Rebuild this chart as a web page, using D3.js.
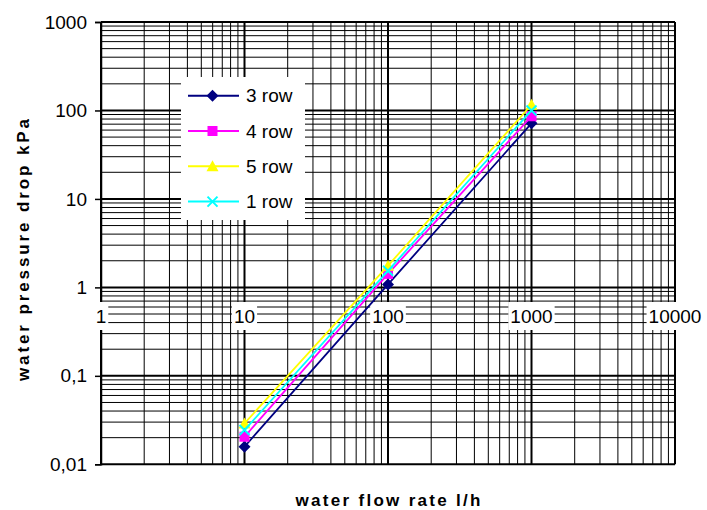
<!DOCTYPE html>
<html>
<head>
<meta charset="utf-8">
<script src="https://cdn.jsdelivr.net/npm/d3@7"></script>
<style>
  html, body { margin: 0; padding: 0; background: #fff; }
  svg { display: block; }
  text { font-family: "Liberation Sans", Arial, sans-serif; fill: #000; }
</style>
</head>
<body>
<svg id="chart" width="707" height="510"></svg>
<script>
// Water flow rate (l/h) at which pressure drop was measured
const flow = [10, 100, 1000];

// Pressure drop (kPa) per coil row count
const row3 = [0.0158, 1.08, 71.5];
const row4 = [0.0205, 1.42, 86];
const row5 = [0.029, 1.76, 116];
const row1 = [0.0244, 1.54, 100];

const seriesNames = ["3 row", "4 row", "5 row", "1 row"];
const seriesColors = ["#000080", "#ff00ff", "#ffff00", "#00ffff"];
const seriesMarkers = ["diamond", "square", "triangle", "cross"];

// Axis tick labels (decimal comma)
const xTickValues = [1, 10, 100, 1000, 10000];
const xTickLabels = ["1", "10", "100", "1000", "10000"];
const yTickValues = [0.01, 0.1, 1, 10, 100, 1000];
const yTickLabels = ["0,01", "0,1", "1", "10", "100", "1000"];

const svg = d3.select("#chart");
const plot = { left: 101, right: 675, top: 22, bottom: 464.3 };

const x = d3.scaleLog().domain([1, 10000]).range([plot.left, plot.right]);
const y = d3.scaleLog().domain([0.01, 1000]).range([plot.bottom, plot.top]);

// Log grid: every integer multiple inside each decade
function gridValues(lo, hi) {
  const out = [];
  for (let p = Math.log10(lo); p <= Math.log10(hi); p++) {
    for (let k = 1; k <= 9; k++) {
      const v = k * Math.pow(10, p);
      if (v > hi * 1.0001) break;
      out.push({ v: v, major: k === 1 });
    }
  }
  return out;
}

const grid = svg.append("g");
grid.selectAll("line.h").data(gridValues(0.01, 1000)).join("line")
  .attr("x1", plot.left).attr("x2", plot.right)
  .attr("y1", d => y(d.v)).attr("y2", d => y(d.v))
  .attr("stroke", "#000").attr("stroke-width", d => d.major ? 2 : 1);
grid.selectAll("line.v").data(gridValues(1, 10000)).join("line")
  .attr("y1", plot.top).attr("y2", plot.bottom)
  .attr("x1", d => x(d.v)).attr("x2", d => x(d.v))
  .attr("stroke", "#000").attr("stroke-width", d => d.major ? 2 : 1);

// Value axis on the left
const yAxis = d3.axisLeft(y).tickValues(yTickValues)
  .tickFormat((d, i) => yTickLabels[i]).tickSize(6).tickPadding(8);
const gy = svg.append("g").attr("transform", `translate(${plot.left},0)`).call(yAxis);
gy.select(".domain").attr("stroke", "#000").attr("stroke-width", 1.5);
gy.selectAll(".tick line").attr("stroke", "#000").attr("stroke-width", 1.5);
gy.selectAll(".tick text").attr("font-size", 19).attr("fill", "#000")
  .style("font-family", '"Liberation Sans", Arial, sans-serif');

// Category labels sit on the y = 1 line, each on a white plate
const xl = svg.append("g");
const baseY = 322.5;
xTickValues.forEach((v, i) => {
  const g = xl.append("g");
  const t = g.append("text")
    .attr("x", x(v)).attr("y", baseY)
    .attr("text-anchor", "middle").attr("font-size", 19)
    .text(xTickLabels[i]);
  const b = t.node().getBBox();
  g.insert("rect", "text")
    .attr("x", b.x - 2).attr("width", b.width + 4)
    .attr("y", 302).attr("height", 28)
    .attr("fill", "#fff");
});

// Marker shapes
function marker(sel, type, color) {
  if (type === "diamond") {
    sel.append("path").attr("d", "M0,-6L6,0L0,6L-6,0Z").attr("fill", color);
  } else if (type === "square") {
    sel.append("rect").attr("x", -5).attr("y", -5).attr("width", 10).attr("height", 10).attr("fill", color);
  } else if (type === "triangle") {
    sel.append("path").attr("d", "M0,-6L6,5L-6,5Z").attr("fill", color);
  } else {
    sel.append("path").attr("d", "M-5,-5L5,5M-5,5L5,-5")
      .attr("stroke", color).attr("stroke-width", 2).attr("fill", "none");
  }
}

const allSeries = [row3, row4, row5, row1];
const line = d3.line().x((d, i) => x(flow[i])).y(d => y(d));

const series = svg.append("g");
allSeries.forEach((vals, s) => {
  const g = series.append("g");
  g.append("path").datum(vals)
    .attr("d", line).attr("fill", "none")
    .attr("stroke", seriesColors[s]).attr("stroke-width", 1.8);
  vals.forEach((v, i) => {
    const m = g.append("g").attr("transform", `translate(${x(flow[i])},${y(v)})`);
    marker(m, seriesMarkers[s], seriesColors[s]);
  });
});

// Legend
const legend = svg.append("g");
legend.append("rect").attr("x", 181).attr("y", 77).attr("width", 124).attr("height", 143).attr("fill", "#fff");
seriesNames.forEach((name, s) => {
  const ly = 95.7 + s * 35.3;
  legend.append("line").attr("x1", 188).attr("x2", 239).attr("y1", ly).attr("y2", ly)
    .attr("stroke", seriesColors[s]).attr("stroke-width", 2);
  const m = legend.append("g").attr("transform", `translate(212.5,${ly})`);
  marker(m, seriesMarkers[s], seriesColors[s]);
  legend.append("text").attr("x", 246).attr("y", ly + 6.5)
    .attr("font-size", 19).text(name);
});

// Axis titles
svg.append("text")
  .attr("x", 388).attr("y", 506)
  .attr("text-anchor", "middle").attr("font-size", 17).attr("font-weight", "bold")
  .attr("textLength", 185).attr("lengthAdjust", "spacing")
  .text("water flow rate l/h");

svg.append("text")
  .attr("transform", "translate(29,250) rotate(-90)")
  .attr("text-anchor", "middle").attr("font-size", 17).attr("font-weight", "bold")
  .attr("textLength", 262).attr("lengthAdjust", "spacing")
  .text("water pressure drop kPa");
</script>
</body>
</html>
